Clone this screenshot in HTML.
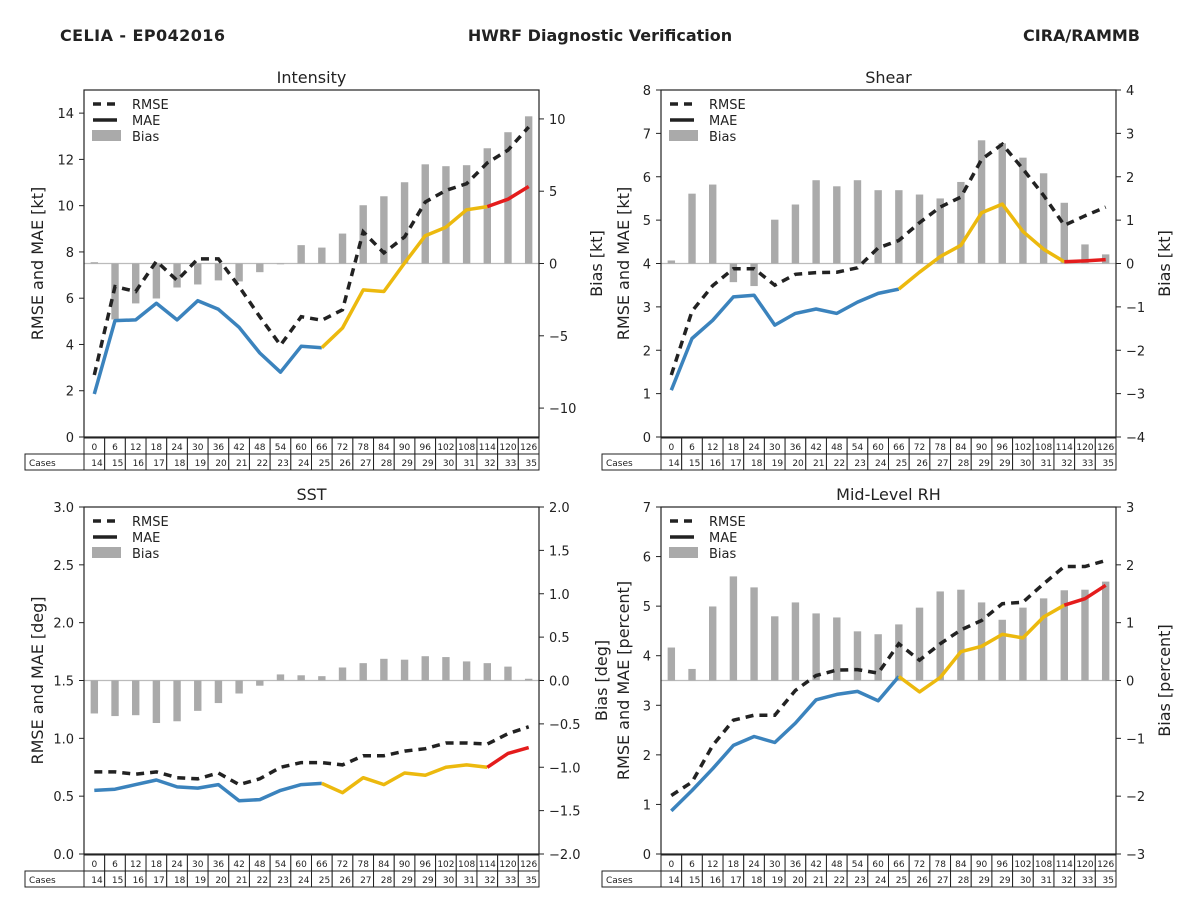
<!DOCTYPE html>
<html><head><meta charset="utf-8">
<style>
html,body{margin:0;padding:0;background:#fff;}
svg{display:block;font-family:"DejaVu Sans","Liberation Sans",sans-serif;}
</style></head>
<body>
<svg id="fig" width="1200" height="900" viewBox="0 0 1200 900" xmlns="http://www.w3.org/2000/svg">
<text x="60" y="41" font-size="16" font-weight="bold" fill="#222" textLength="165">CELIA - EP042016</text>
<text x="600" y="41" font-size="16" font-weight="bold" fill="#222" text-anchor="middle">HWRF Diagnostic Verification</text>
<text x="1140" y="41" font-size="16" font-weight="bold" fill="#222" text-anchor="end">CIRA/RAMMB</text>
</svg>
<script>
const hours = [0,6,12,18,24,30,36,42,48,54,60,66,72,78,84,90,96,102,108,114,120,126];
const cases = [14,15,16,17,18,19,20,21,22,23,24,25,26,27,28,29,29,30,31,32,33,35];

const intensityMAE = [1.86,5.03,5.06,5.78,5.06,5.89,5.52,4.74,3.63,2.80,3.92,3.86,4.71,6.36,6.29,7.52,8.70,9.07,9.82,9.96,10.28,10.83];
const intensityRMSE = [2.68,6.5,6.29,7.6,6.77,7.7,7.7,6.5,5.2,3.97,5.2,5.05,5.5,8.87,7.96,8.65,10.16,10.66,10.95,11.85,12.4,13.4];
const intensityBias = [0.09,-3.87,-2.76,-2.42,-1.66,-1.45,-1.17,-1.24,-0.6,-0.05,1.27,1.1,2.07,4.03,4.65,5.62,6.86,6.73,6.8,7.97,9.08,10.18];

const shearMAE = [1.08,2.27,2.69,3.23,3.27,2.58,2.85,2.95,2.85,3.11,3.31,3.41,3.80,4.16,4.42,5.17,5.37,4.74,4.33,4.04,4.06,4.09];
const shearRMSE = [1.43,2.9,3.49,3.88,3.88,3.5,3.75,3.79,3.80,3.9,4.36,4.53,4.94,5.3,5.53,6.4,6.75,6.18,5.57,4.88,5.1,5.3];
const shearBias = [0.07,1.61,1.82,-0.43,-0.52,1.01,1.36,1.92,1.78,1.92,1.69,1.69,1.59,1.50,1.88,2.84,2.77,2.44,2.08,1.40,0.44,0.21];

const sstMAE = [0.55,0.56,0.60,0.64,0.58,0.57,0.60,0.46,0.47,0.55,0.60,0.61,0.53,0.66,0.60,0.70,0.68,0.75,0.77,0.75,0.87,0.92];
const sstRMSE = [0.71,0.71,0.69,0.71,0.66,0.65,0.70,0.60,0.65,0.75,0.79,0.79,0.77,0.85,0.85,0.89,0.91,0.96,0.96,0.95,1.04,1.10];
const sstBias = [-0.38,-0.41,-0.40,-0.49,-0.47,-0.35,-0.26,-0.15,-0.06,0.07,0.06,0.05,0.15,0.20,0.25,0.24,0.28,0.27,0.22,0.20,0.16,0.02];

const rhMAE = [0.87,1.28,1.72,2.19,2.37,2.25,2.64,3.11,3.22,3.28,3.09,3.58,3.27,3.56,4.08,4.19,4.43,4.36,4.78,5.02,5.15,5.42];
const rhRMSE = [1.18,1.45,2.19,2.70,2.80,2.80,3.30,3.60,3.71,3.72,3.65,4.24,3.91,4.24,4.52,4.71,5.05,5.08,5.45,5.80,5.80,5.92];
const rhBias = [0.57,0.20,1.28,1.80,1.61,1.11,1.35,1.16,1.09,0.85,0.80,0.97,1.26,1.54,1.57,1.35,1.05,1.26,1.42,1.56,1.57,1.71];

const intensityLeftTicks = [0,2,4,6,8,10,12,14];
const intensityRightTicks = [-10,-5,0,5,10];
const shearLeftTicks = [0,1,2,3,4,5,6,7,8];
const shearRightTicks = [-4,-3,-2,-1,0,1,2,3,4];
const sstLeftTicks = [0,0.5,1.0,1.5,2.0,2.5,3.0];
const sstRightTicks = [-2,-1.5,-1,-0.5,0,0.5,1,1.5,2];
const rhLeftTicks = [0,1,2,3,4,5,6,7];
const rhRightTicks = [-3,-2,-1,0,1,2,3];

const NS = "http://www.w3.org/2000/svg";
const svg = document.getElementById('fig');
function mk(tag, attrs, parent){
  const e = document.createElementNS(NS, tag);
  for (const k in attrs) e.setAttribute(k, attrs[k]);
  (parent||svg).appendChild(e);
  return e;
}
function fmt(v, dec){ const s = v.toFixed(dec); return s.replace('-', '\u2212'); }

const panels = [
 {key:'intensity', title:'Intensity', x0:84, y0:90, lmin:0, lmax:15, rmin:-12, rmax:12,
  mae:intensityMAE, rmse:intensityRMSE, bias:intensityBias, lt:intensityLeftTicks, rt:intensityRightTicks, ld:0, rd:0,
  llab:'RMSE and MAE [kt]', rlab:'Bias [kt]', llx:37, rlx:596},
 {key:'shear', title:'Shear', x0:661, y0:90, lmin:0, lmax:8, rmin:-4, rmax:4,
  mae:shearMAE, rmse:shearRMSE, bias:shearBias, lt:shearLeftTicks, rt:shearRightTicks, ld:0, rd:0,
  llab:'RMSE and MAE [kt]', rlab:'Bias [kt]', llx:623, rlx:1164},
 {key:'sst', title:'SST', x0:84, y0:507, lmin:0, lmax:3, rmin:-2, rmax:2,
  mae:sstMAE, rmse:sstRMSE, bias:sstBias, lt:sstLeftTicks, rt:sstRightTicks, ld:1, rd:1,
  llab:'RMSE and MAE [deg]', rlab:'Bias [deg]', llx:37, rlx:601},
 {key:'rh', title:'Mid-Level RH', x0:661, y0:507, lmin:0, lmax:7, rmin:-3, rmax:3,
  mae:rhMAE, rmse:rhRMSE, bias:rhBias, lt:rhLeftTicks, rt:rhRightTicks, ld:0, rd:0,
  llab:'RMSE and MAE [percent]', rlab:'Bias [percent]', llx:623, rlx:1164},
];
const W = 455, H = 347;

panels.forEach(p => {
  const g = mk('g', {});
  
  
  const cw = W / hours.length;
  const xs = i => p.x0 + cw * (i + 0.5);
  const yl = v => p.y0 + H - (v - p.lmin) / (p.lmax - p.lmin) * H;
  const yr = v => p.y0 + H - (v - p.rmin) / (p.rmax - p.rmin) * H;

  const t = mk('text', {x:p.x0 + W/2, y:p.y0 - 7, 'font-size':16, 'text-anchor':'middle', fill:'#222'}, g);
  t.textContent = p.title;
  
  

  const zl = mk('line', {x1:p.x0, x2:p.x0+W, y1:yr(0), y2:yr(0), stroke:'#bbb', 'stroke-width':1.2}, g);
  
  

  p.bias.forEach((b, i) => {
    const y0 = yr(0), y1 = yr(b);
    const r = mk('rect', {x:xs(i) - 3.7, y:Math.min(y0,y1), width:7.4, height:Math.max(0.8, Math.abs(y1-y0)), fill:'#aaa'}, g);
    
    
  });

  const rp = p.rmse.map((v,i) => xs(i).toFixed(1) + ',' + yl(v).toFixed(1)).join(' ');
  const rl = mk('polyline', {points:rp, fill:'none', stroke:'#222', 'stroke-width':3.5, 'stroke-dasharray':'8,6'}, g);
  
  

  const segs = [[0,11,'#3b83bd'],[11,19,'#ecb90e'],[19,21,'#e41c1c']];
  segs.forEach(s => {
    const pts = [];
    for (let i = s[0]; i <= s[1]; i++) pts.push(xs(i).toFixed(1) + ',' + yl(p.mae[i]).toFixed(1));
    const l = mk('polyline', {points:pts.join(' '), fill:'none', stroke:s[2], 'stroke-width':3.5, 'stroke-linejoin':'round'}, g);
    
    
  });

  const fr = mk('rect', {x:p.x0, y:p.y0, width:W, height:H, fill:'none', stroke:'#222', 'stroke-width':1.2}, g);
  
  

  p.lt.forEach(v => {
    const y = yl(v);
    mk('line', {x1:p.x0-5, x2:p.x0, y1:y, y2:y, stroke:'#222', 'stroke-width':1}, g);
    const tx = mk('text', {x:p.x0-10, y:y+5, 'font-size':13, 'text-anchor':'end', fill:'#222'}, g);
    tx.textContent = fmt(v, p.ld);
    
    
  });
  p.rt.forEach(v => {
    const y = yr(v);
    mk('line', {x1:p.x0+W, x2:p.x0+W+5, y1:y, y2:y, stroke:'#222', 'stroke-width':1}, g);
    const tx = mk('text', {x:p.x0+W+10, y:y+5, 'font-size':13, fill:'#222'}, g);
    tx.textContent = fmt(v, p.rd);
    
    
  });

  const cy = p.y0 + H/2;
  const la = mk('text', {x:p.llx, y:cy, 'font-size':16, 'text-anchor':'middle', fill:'#222', transform:'rotate(-90 '+(p.llx)+' '+cy+')', dy:6}, g);
  la.textContent = p.llab;
  
  
  const ra = mk('text', {x:p.rlx, y:cy, 'font-size':16, 'text-anchor':'middle', fill:'#222', transform:'rotate(-90 '+(p.rlx)+' '+cy+')', dy:6}, g);
  ra.textContent = p.rlab;
  
  

  const lg = mk('g', {}, g);
  
  
  const lx = p.x0 + 9, ly = p.y0 + 14;
  mk('line', {x1:lx, x2:lx+24, y1:ly, y2:ly, stroke:'#222', 'stroke-width':3.5, 'stroke-dasharray':'8,6'}, lg);
  mk('line', {x1:lx, x2:lx+24, y1:ly+16, y2:ly+16, stroke:'#222', 'stroke-width':3.5}, lg);
  mk('rect', {x:lx-1, y:ly+26, width:29, height:11, fill:'#aaa'}, lg);
  [['RMSE',0],['MAE',16],['Bias',32]].forEach(e => {
    const tx = mk('text', {x:lx+39, y:ly+5+e[1], 'font-size':13, fill:'#222'}, lg);
    tx.textContent = e[0];
    
    
  });

  const tb = mk('g', {}, g);
  
  
  const ty = p.y0 + H;
  hours.forEach((h, i) => {
    const cx = p.x0 + cw * i;
    mk('rect', {x:cx, y:ty+1, width:cw, height:16, fill:'#fff', stroke:'#222', 'stroke-width':1}, tb);
    const t1 = mk('text', {x:cx+cw/2, y:ty+13, 'font-size':9, 'text-anchor':'middle', fill:'#222'}, tb);
    t1.textContent = h;
    
    
    mk('rect', {x:cx, y:ty+17, width:cw, height:16, fill:'#fff', stroke:'#222', 'stroke-width':1}, tb);
    const t2 = mk('text', {x:cx+cw-2, y:ty+29, 'font-size':9, 'text-anchor':'end', fill:'#222'}, tb);
    t2.textContent = cases[i];
    
    
  });
  mk('rect', {x:p.x0-59, y:ty+17, width:59, height:16, fill:'#fff', stroke:'#222', 'stroke-width':1}, tb);
  const cl = mk('text', {x:p.x0-55, y:ty+29, 'font-size':9, fill:'#222'}, tb);
  cl.textContent = 'Cases';
  
  
});
</script>
</body></html>
